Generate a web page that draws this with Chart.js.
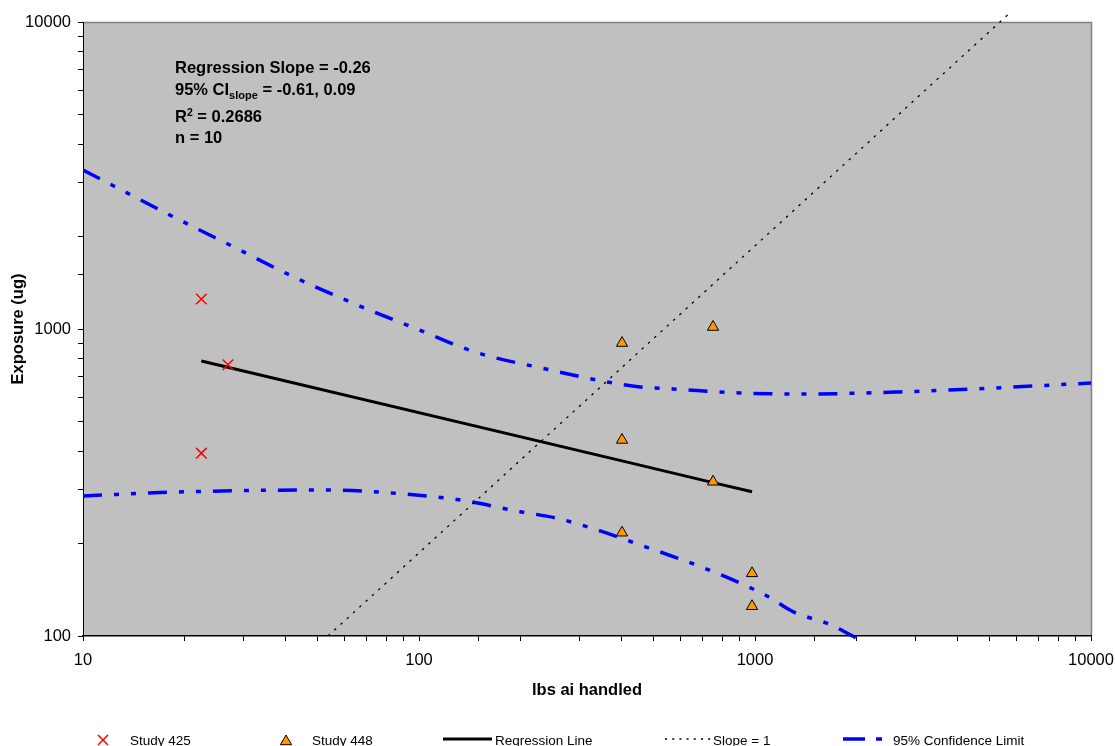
<!DOCTYPE html>
<html>
<head>
<meta charset="utf-8">
<script src="https://cdn.jsdelivr.net/npm/chart.js@4.4.1/dist/chart.umd.min.js"></script>
<style>
  html, body { margin: 0; padding: 0; background: #fff; }
</style>
</head>
<body>
<canvas id="chart" width="1115" height="746"></canvas>
<script>
// Exposure vs lbs ai handled, log-log.
const study425X = [22.5, 27.0, 22.5];
const study425Y = [1252, 765, 394];
const study448X = [402, 750, 402, 750, 402, 980, 980];
const study448Y = [900, 1015, 435, 318, 217, 160, 125];

const regX = [22.5, 402, 750, 980];
const regY = [787, 372, 316, 295];

const slopeX = [53.6, 5690];
const slopeY = [100, 10620];

const ciUpperX = [10, 18.7, 28.2, 42.2, 64.5, 97.5, 149, 233, 361, 455, 570, 902, 1361, 2701, 5400, 10000];
const ciUpperY = [3296, 2311, 1846, 1481, 1206, 1005, 837, 745, 673, 647, 638, 619, 614, 624, 644, 667];
const ciLowerX = [10, 20.3, 52.1, 83.7, 134, 200, 256.5, 346, 455, 700, 1086, 1297, 1671, 2109];
const ciLowerY = [286, 295, 299, 292, 277, 254, 242, 220, 198, 167, 135, 120, 109, 95.5];

const xTickLabels = [10, 100, 1000, 10000];
const yTickLabels = [100, 1000, 10000];

const legendLabels = ["Study 425", "Study 448", "Regression Line", "Slope = 1", "95% Confidence Limit"];
const noteLines = [
  [{ t: "Regression Slope = -0.26" }],
  [{ t: "95% CI" }, { t: "slope", sub: true }, { t: " = -0.61, 0.09" }],
  [{ t: "R" }, { t: "2", sup: true }, { t: " = 0.2686" }],
  [{ t: "n = 10" }],
];

const FONT = "'Liberation Sans', Arial, Helvetica, sans-serif";
const pts = (xs, ys) => xs.map((x, i) => ({ x, y: ys[i] }));
const isMajor = (v, list) => list.some((m) => Math.abs(m - v) < 1e-6 * m);

// grey plot area + thin grey frame (top/right), like the spreadsheet original
const plotFrame = {
  id: "plotFrame",
  beforeDraw(chart) {
    const { ctx, chartArea: a } = chart;
    ctx.save();
    ctx.fillStyle = "#c0c0c0";
    ctx.fillRect(a.left, a.top, a.right - a.left, a.bottom - a.top);
    ctx.strokeStyle = "#808080";
    ctx.lineWidth = 1.5;
    ctx.beginPath();
    ctx.moveTo(a.left, a.top + 0.5);
    ctx.lineTo(a.right + 0.5, a.top + 0.5);
    ctx.lineTo(a.right + 0.5, a.bottom);
    ctx.stroke();
    ctx.restore();
  },
};

// stats text block with sub/superscripts
const notes = {
  id: "notes",
  afterDraw(chart) {
    const ctx = chart.ctx;
    const baselines = [73, 95, 122, 143];
    ctx.save();
    ctx.fillStyle = "#000";
    ctx.textBaseline = "alphabetic";
    noteLines.forEach((runs, i) => {
      let x = 175;
      for (const r of runs) {
        let y = baselines[i];
        if (r.sub) { ctx.font = `bold 11px ${FONT}`; y += 4; }
        else if (r.sup) { ctx.font = `bold 10.5px ${FONT}`; y -= 6; }
        else ctx.font = `bold 16.5px ${FONT}`;
        ctx.fillText(r.t, x, y);
        x += ctx.measureText(r.t).width;
      }
    });
    ctx.restore();
  },
};

// legend row along the bottom edge
const bottomLegend = {
  id: "bottomLegend",
  afterDraw(chart) {
    const ctx = chart.ctx;
    const ds = chart.data.datasets;
    const y = 740;
    ctx.save();
    // Study 425: red x
    ctx.strokeStyle = ds[0].pointBorderColor;
    ctx.lineWidth = 1.5;
    ctx.beginPath();
    ctx.moveTo(98, y - 5); ctx.lineTo(108, y + 5);
    ctx.moveTo(108, y - 5); ctx.lineTo(98, y + 5);
    ctx.stroke();
    // Study 448: triangle
    const r = 6.5, cx = 286, cy = y + 1.5;
    ctx.beginPath();
    for (let k = 0; k < 3; k++) {
      const a = k * 2 * Math.PI / 3;
      const px = cx + Math.sin(a) * r, py = cy - Math.cos(a) * r;
      k ? ctx.lineTo(px, py) : ctx.moveTo(px, py);
    }
    ctx.closePath();
    ctx.fillStyle = ds[1].pointBackgroundColor;
    ctx.fill();
    ctx.strokeStyle = "#000";
    ctx.lineWidth = 1;
    ctx.stroke();
    // line samples
    const seg = (x0, x1, d, dash) => {
      ctx.strokeStyle = d.borderColor;
      ctx.lineWidth = d.borderWidth;
      ctx.setLineDash(dash);
      ctx.beginPath();
      ctx.moveTo(x0, y - 1); ctx.lineTo(x1, y - 1);
      ctx.stroke();
    };
    seg(443, 492, ds[2], []);
    seg(665, 711, ds[3], [2, 5.2]);
    seg(843, 883, ds[4], [22, 11, 6, 11]);
    ctx.setLineDash([]);
    ctx.fillStyle = "#000";
    ctx.font = `13.5px ${FONT}`;
    ctx.textBaseline = "alphabetic";
    const tx = [130, 312, 495, 713, 893];
    legendLabels.forEach((t, i) => ctx.fillText(t, tx[i], 745));
    ctx.restore();
  },
};

const ciStyle = {
  label: legendLabels[4],
  showLine: true,
  borderColor: "#0000ff",
  borderWidth: 3.5,
  borderDash: [19, 12, 5, 12, 5, 12],
  borderCapStyle: "butt",
  pointRadius: 0,
  cubicInterpolationMode: "monotone",
};

new Chart(document.getElementById("chart"), {
  type: "scatter",
  data: {
    datasets: [
      { label: legendLabels[0], data: pts(study425X, study425Y), pointStyle: "crossRot",
        pointRadius: 7.5, pointBorderColor: "#ff0000", pointBackgroundColor: "#ff0000", pointBorderWidth: 1.5 },
      { label: legendLabels[1], data: pts(study448X, study448Y), pointStyle: "triangle",
        pointRadius: 6.5, pointBackgroundColor: "#ff9900", pointBorderColor: "#000000", pointBorderWidth: 1 },
      { label: legendLabels[2], data: pts(regX, regY), showLine: true, borderColor: "#000000",
        borderWidth: 3, pointRadius: 0 },
      { label: legendLabels[3], data: pts(slopeX, slopeY), showLine: true, borderColor: "#000000",
        borderWidth: 1.3, borderDash: [2.5, 6], pointRadius: 0, clip: { left: 0, top: 10, right: 0, bottom: 0 } },
      { ...ciStyle, data: pts(ciUpperX, ciUpperY) },
      { ...ciStyle, data: pts(ciLowerX, ciLowerY), clip: { left: 0, top: 0, right: 0, bottom: 7 } },
    ],
  },
  options: {
    responsive: false,
    animation: false,
    devicePixelRatio: 1,
    layout: { padding: { left: 0, top: 22, right: 24, bottom: 0 } },
    plugins: { legend: { display: false }, tooltip: { enabled: false } },
    scales: {
      x: {
        type: "logarithmic",
        min: 10, max: 10000,
        afterFit: (s) => { s.height = 110; s.paddingLeft = 0; s.paddingRight = 0; },
        border: { display: true, color: "#000", width: 1.5 },
        grid: { drawOnChartArea: false, drawTicks: true, tickLength: 5, tickColor: "#000", color: "#000" },
        ticks: {
          autoSkip: false, maxRotation: 0, padding: 10, color: "#000",
          font: { family: FONT, size: 16.5 },
          callback: (v) => (isMajor(v, xTickLabels) ? String(v) : ""),
        },
        title: { display: true, text: "lbs ai handled", color: "#000",
          font: { family: FONT, size: 16.5, weight: "bold" }, padding: { top: 0, bottom: 46 } },
      },
      y: {
        type: "logarithmic",
        min: 100, max: 10000,
        afterFit: (s) => { s.width = 83; s.paddingTop = 0; s.paddingBottom = 0; },
        border: { display: true, color: "#000", width: 1 },
        grid: { drawOnChartArea: false, drawTicks: true, tickLength: 5, tickColor: "#000", color: "#000" },
        ticks: {
          autoSkip: false, padding: 7, color: "#000",
          font: { family: FONT, size: 16.5 },
          callback: (v) => (isMajor(v, yTickLabels) ? String(v) : ""),
        },
        title: { display: true, text: "Exposure (ug)", color: "#000",
          font: { family: FONT, size: 16.5, weight: "bold" }, padding: { top: 9, bottom: 0 } },
      },
    },
  },
  plugins: [plotFrame, notes, bottomLegend],
});
</script>
</body>
</html>
